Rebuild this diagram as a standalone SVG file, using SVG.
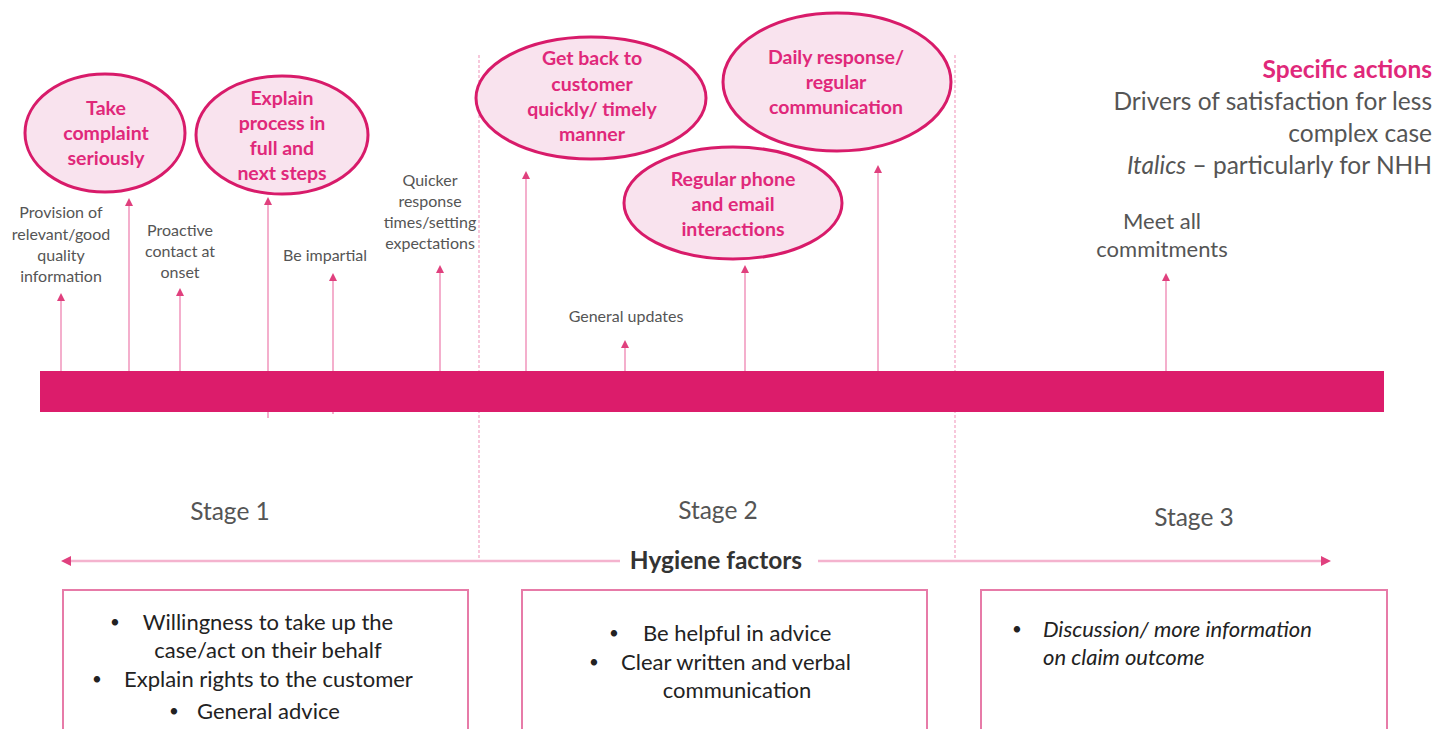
<svg xmlns="http://www.w3.org/2000/svg" width="1446" height="729" viewBox="0 0 1446 729">
  <style>
    .bg { fill: #ffffff; }
    .bar { fill: #DC1C6B; }
    .divider { stroke: #F2A3C3; stroke-width: 1.2; stroke-dasharray: 3 2; fill: none; }
    .driver { fill: #F9E3EE; stroke: #D81B6A; stroke-width: 3; }
    .driver-text { font-family: Lato, "Open Sans", sans-serif; font-weight: bold; font-size: 19.5px; fill: #E0287A; text-anchor: middle; }
    .stem { stroke: #F29BC0; stroke-width: 1.6; fill: none; }
    .small { font-family: Lato, "Open Sans", sans-serif; font-size: 16px; fill: #555555; text-anchor: middle; }
    .medium { font-family: Lato, "Open Sans", sans-serif; font-size: 22px; fill: #555555; text-anchor: middle; }
    .legend { font-family: Lato, "Open Sans", sans-serif; font-size: 24.5px; fill: #555555; text-anchor: end; }
    .legend-title { font-family: Lato, "Open Sans", sans-serif; font-size: 24.5px; font-weight: bold; fill: #E0287A; text-anchor: end; }
    .stage { font-family: Lato, "Open Sans", sans-serif; font-size: 24.5px; fill: #555555; text-anchor: middle; }
    .hygiene { font-family: Lato, "Open Sans", sans-serif; font-size: 24.5px; font-weight: bold; fill: #333333; text-anchor: middle; }
    .hline { stroke: #F4B3CE; stroke-width: 2.5; fill: none; }
    .box { fill: #ffffff; stroke: #E77BA8; stroke-width: 2; }
    .item { font-family: Lato, "Open Sans", sans-serif; font-size: 22px; fill: #222222; }
    .bullet { font-family: Lato, "Open Sans", sans-serif; font-size: 17px; fill: #222222; }
  </style>
  <defs>
    <marker id="tip" viewBox="0 0 10 10" refX="5" refY="5" markerWidth="5" markerHeight="5" orient="auto">
      <path d="M0,0 L10,5 L0,10 z" fill="#E0407E"/>
    </marker>
    <marker id="tipH" viewBox="0 0 10 10" refX="5" refY="5" markerWidth="4" markerHeight="4" orient="auto">
      <path d="M0,0 L10,5 L0,10 z" fill="#E0407E"/>
    </marker>
  </defs>

  <rect class="bg" x="0" y="0" width="1446" height="729"/>

  <!-- stage dividers -->
  <g id="dividers">
    <line class="divider" x1="479" y1="55" x2="479" y2="560"/>
    <line class="divider" x1="955" y1="55" x2="955" y2="560"/>
  </g>

  <!-- connectors: stems rising from the timeline -->
  <g id="connectors">
    <line class="stem" x1="61" y1="371" x2="61" y2="297" marker-end="url(#tip)"/>
    <line class="stem" x1="129" y1="371" x2="129" y2="202" marker-end="url(#tip)"/>
    <line class="stem" x1="180" y1="371" x2="180" y2="292" marker-end="url(#tip)"/>
    <line class="stem" x1="268" y1="418" x2="268" y2="201" marker-end="url(#tip)"/>
    <line class="stem" x1="333" y1="414" x2="333" y2="277" marker-end="url(#tip)"/>
    <line class="stem" x1="440" y1="371" x2="440" y2="269" marker-end="url(#tip)"/>
    <line class="stem" x1="526" y1="371" x2="526" y2="175" marker-end="url(#tip)"/>
    <line class="stem" x1="625" y1="371" x2="625" y2="344" marker-end="url(#tip)"/>
    <line class="stem" x1="745" y1="371" x2="745" y2="269" marker-end="url(#tip)"/>
    <line class="stem" x1="878" y1="371" x2="878" y2="169" marker-end="url(#tip)"/>
    <line class="stem" x1="1166" y1="371" x2="1166" y2="277" marker-end="url(#tip)"/>
  </g>

  <!-- timeline bar -->
  <g id="timeline">
    <rect class="bar" x="40" y="371" width="1344" height="41"/>
  </g>

  <!-- specific actions (ellipses) -->
  <g id="take-complaint">
    <ellipse class="driver" cx="105" cy="133" rx="80" ry="59"/>
    <text class="driver-text" x="106" y="115">Take</text>
    <text class="driver-text" x="106" y="140">complaint</text>
    <text class="driver-text" x="106" y="165">seriously</text>
  </g>
  <g id="explain-process">
    <ellipse class="driver" cx="282" cy="135" rx="86" ry="59"/>
    <text class="driver-text" x="282" y="105">Explain</text>
    <text class="driver-text" x="282" y="130">process in</text>
    <text class="driver-text" x="282" y="155">full and</text>
    <text class="driver-text" x="282" y="180">next steps</text>
  </g>
  <g id="get-back">
    <ellipse class="driver" cx="591" cy="98" rx="115" ry="61"/>
    <text class="driver-text" x="592" y="65">Get back to</text>
    <text class="driver-text" x="592" y="91">customer</text>
    <text class="driver-text" x="592" y="116">quickly/ timely</text>
    <text class="driver-text" x="592" y="141">manner</text>
  </g>
  <g id="daily-response">
    <ellipse class="driver" cx="837" cy="82" rx="114" ry="69"/>
    <text class="driver-text" x="836" y="64">Daily response/</text>
    <text class="driver-text" x="836" y="89">regular</text>
    <text class="driver-text" x="836" y="114">communication</text>
  </g>
  <g id="regular-phone">
    <ellipse class="driver" cx="733" cy="203" rx="109" ry="56"/>
    <text class="driver-text" x="733" y="186">Regular phone</text>
    <text class="driver-text" x="733" y="211">and email</text>
    <text class="driver-text" x="733" y="236">interactions</text>
  </g>

  <!-- drivers of satisfaction (plain labels) -->
  <g id="provision">
    <text class="small" x="61" y="218">Provision of</text>
    <text class="small" x="61" y="240">relevant/good</text>
    <text class="small" x="61" y="261">quality</text>
    <text class="small" x="61" y="282">information</text>
  </g>
  <g id="proactive">
    <text class="small" x="180" y="236">Proactive</text>
    <text class="small" x="180" y="257">contact at</text>
    <text class="small" x="180" y="278">onset</text>
  </g>
  <g id="impartial">
    <text class="small" x="325" y="261">Be impartial</text>
  </g>
  <g id="quicker">
    <text class="small" x="430" y="186">Quicker</text>
    <text class="small" x="430" y="207">response</text>
    <text class="small" x="430" y="228">times/setting</text>
    <text class="small" x="430" y="249">expectations</text>
  </g>
  <g id="general-updates">
    <text class="small" x="626" y="322">General updates</text>
  </g>
  <g id="commitments">
    <text class="medium" x="1162" y="229">Meet all</text>
    <text class="medium" x="1162" y="257">commitments</text>
  </g>

  <!-- legend -->
  <g id="legend">
    <text class="legend-title" x="1432" y="78">Specific actions</text>
    <text class="legend" x="1432" y="110">Drivers of satisfaction for less</text>
    <text class="legend" x="1432" y="142">complex case</text>
    <text class="legend" x="1432" y="174"><tspan font-style="italic">Italics</tspan> – particularly for NHH</text>
  </g>

  <!-- stage labels -->
  <g id="stages">
    <text class="stage" x="230" y="520">Stage 1</text>
    <text class="stage" x="718" y="519">Stage 2</text>
    <text class="stage" x="1194" y="526">Stage 3</text>
  </g>

  <!-- hygiene factors span -->
  <g id="hygiene">
    <line class="hline" x1="620" y1="561" x2="66" y2="561" marker-end="url(#tipH)"/>
    <line class="hline" x1="818" y1="561" x2="1326" y2="561" marker-end="url(#tipH)"/>
    <text class="hygiene" x="716" y="569">Hygiene factors</text>
  </g>

  <!-- hygiene factor boxes -->
  <g id="box-stage1">
    <rect class="box" x="63" y="590" width="405" height="150"/>
    <text class="bullet" x="110" y="628">•</text>
    <text class="item" x="268" y="630" text-anchor="middle">Willingness to take up the</text>
    <text class="item" x="268" y="658" text-anchor="middle">case/act on their behalf</text>
    <text class="bullet" x="92" y="685">•</text>
    <text class="item" x="124" y="687">Explain rights to the customer</text>
    <text class="bullet" x="169" y="717">•</text>
    <text class="item" x="197" y="719">General advice</text>
  </g>
  <g id="box-stage2">
    <rect class="box" x="522" y="590" width="405" height="150"/>
    <text class="bullet" x="609" y="639">•</text>
    <text class="item" x="643" y="641">Be helpful in advice</text>
    <text class="bullet" x="589" y="668">•</text>
    <text class="item" x="621" y="670">Clear written and verbal</text>
    <text class="item" x="737" y="698" text-anchor="middle">communication</text>
  </g>
  <g id="box-stage3">
    <rect class="box" x="981" y="590" width="406" height="150"/>
    <text class="bullet" x="1012" y="635">•</text>
    <text class="item" x="1043" y="637" font-style="italic" font-size="22.5px">Discussion/ more information</text>
    <text class="item" x="1043" y="665" font-style="italic" font-size="22.5px">on claim outcome</text>
  </g>
</svg>
